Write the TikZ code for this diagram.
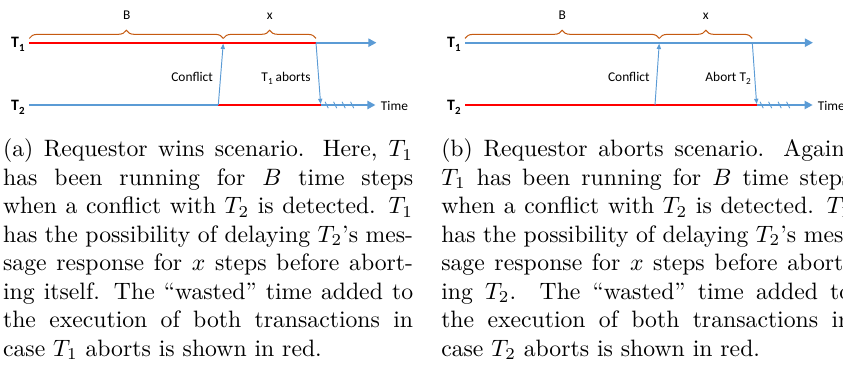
\documentclass[tikz,border=0pt]{standalone}
\usepackage{fontspec}
\newfontfamily\diagfont{Carlito}
\usetikzlibrary{arrows.meta,decorations.pathreplacing,calc}
\definecolor{tblue}{HTML}{5B9BD5}
\definecolor{tred}{HTML}{FF0000}
\definecolor{tbrace}{HTML}{C55A11}
\newcommand{\subone}[1]{\raisebox{-0.22em}{\fontsize{3.9}{5}\selectfont #1}}
\newcommand{\subbig}[1]{\raisebox{-0.24em}{\fontsize{4.6}{5}\selectfont #1}}
\begin{document}
\begin{tikzpicture}[x=0.4219pt,y=-0.4219pt,
  tline/.style={line width=1.0pt},
  tarrow/.style={line width=1.0pt,-{Triangle[length=3.45pt,width=3.45pt]}},
  msg/.style={tblue,line width=0.4pt,-{Triangle[length=2.2pt,width=1.75pt]},shorten >=0.43pt},
  brc/.style={decorate,decoration={brace,amplitude=3.45pt},tbrace,line width=0.43pt},
  lbl/.style={font=\diagfont\fontsize{5.65}{7}\selectfont,inner sep=0},
  tlbl/.style={font=\diagfont\bfseries\fontsize{6.7}{8}\selectfont,inner sep=0},
  hatch/.style={tblue,line width=0.38pt},
  captext/.style={inner sep=0,anchor=base west}]
\useasboundingbox (0,0) rectangle (843,367);
\clip (0,0) rectangle (843,367);
% ---------- panel (a) ----------
\coordinate (a1s) at (29.3,42.7);
\coordinate (a1c) at (223.3,42.7);
\coordinate (a1k) at (316,42.7);
\coordinate (a1e) at (376.5,42.7);
\coordinate (a2s) at (29.3,105);
\coordinate (a2c) at (218.3,105);
\coordinate (a2k) at (320.7,105);
\coordinate (a2e) at (375.5,105);
\node[tlbl,anchor=base west] (aT1) at (10.7,48) {T\subbig{1}};
\node[tlbl,anchor=base west] (aT2) at (10.7,110.3) {T\subbig{2}};
\draw[tline,tred] (a1s) -- (a1k);
\draw[tarrow,tblue] (a1k) -- (a1e);
\draw[tline,tblue] (a2s) -- (a2c);
\draw[tline,tred] (a2c) -- (a2k);
\draw[tarrow,tblue] (a2k) -- (a2e);
\foreach \d in {6,14.5,23,31.5}
  \draw[hatch] ($(a2k)+(\d-1.6,-3.2)$) -- ++(3.2,6.4);
\draw[msg] (a2c) -- (a1c);
\draw[msg] (a1k) -- (a2k);
\draw[brc] ([yshift=1.8pt]a1s) -- ([yshift=1.8pt]a1c);
\draw[brc] ([yshift=1.8pt]a1c) -- ([yshift=1.8pt]a1k);
\node[lbl,anchor=base] (aB) at (126.7,20) {B};
\node[lbl,anchor=base] (ax) at (269.7,20) {x};
\node[lbl,anchor=base east] (aconf) at (213.3,81.7) {Conflict};
\node[lbl,anchor=base west] (aabort) at (261,81.7) {T\subone{1} aborts};
\node[lbl,anchor=base west] (atime) at (380.5,111) {Time};
% ---------- panel (b) ----------
\coordinate (b1s) at (465,42.7);
\coordinate (b1c) at (659.3,42.7);
\coordinate (b1k) at (752.3,42.7);
\coordinate (b1e) at (813,42.7);
\coordinate (b2s) at (465,105);
\coordinate (b2c) at (655,105);
\coordinate (b2k) at (756.7,105);
\coordinate (b2e) at (812.7,105);
\node[tlbl,anchor=base west] (bT1) at (446.7,48) {T\subbig{1}};
\node[tlbl,anchor=base west] (bT2) at (446.7,110.3) {T\subbig{2}};
\draw[tarrow,tblue] (b1s) -- (b1e);
\draw[tline,tred] (b2s) -- (b2k);
\draw[tarrow,tblue] (b2k) -- (b2e);
\foreach \d in {5,13.5,23,31.5}
  \draw[hatch] ($(b2k)+(\d-1.6,-3.2)$) -- ++(3.2,6.4);
\draw[msg] (b2c) -- (b1c);
\draw[msg] (b1k) -- (b2k);
\draw[brc] ([yshift=1.8pt]b1s) -- ([yshift=1.8pt]b1c);
\draw[brc] ([yshift=1.8pt]b1c) -- ([yshift=1.8pt]b1k);
\node[lbl,anchor=base] (bB) at (562.2,20) {B};
\node[lbl,anchor=base] (bx) at (705.8,20) {x};
\node[lbl,anchor=base east] (bconf) at (650,81.7) {Conflict};
\node[lbl,anchor=base west] (babort) at (705,81.7) {Abort T\subone{2}};
\node[lbl,anchor=base west] (btime) at (817.3,111) {Time};
% ---------- captions ----------
\node[captext] (capa) at (2.6,157) {\parbox[t]{173pt}{%
(a) Requestor wins scenario. Here, $T_1$\linebreak
has been running for $B$ time steps\linebreak
when a conflict with $T_2$ is detected. $T_1$\linebreak
has the possibility of delaying $T_2$'s mes-\linebreak
sage response for $x$ steps before abort-\linebreak
ing itself. The ``wasted'' time added to\linebreak
the execution of both transactions in\linebreak
case $T_1$ aborts is shown in red.}};
\node[captext] (capb) at (440.8,157) {\parbox[t]{173pt}{%
(b) Requestor aborts scenario. Again,\linebreak
$T_1$ has been running for $B$ time steps\linebreak
when a conflict with $T_2$ is detected. $T_1$\linebreak
has the possibility of delaying $T_2$'s mes-\linebreak
sage response for $x$ steps before abort-\linebreak
ing $T_2$. The ``wasted'' time added to\linebreak
the execution of both transactions in\linebreak
case $T_2$ aborts is shown in red.}};
\end{tikzpicture}
\end{document}
